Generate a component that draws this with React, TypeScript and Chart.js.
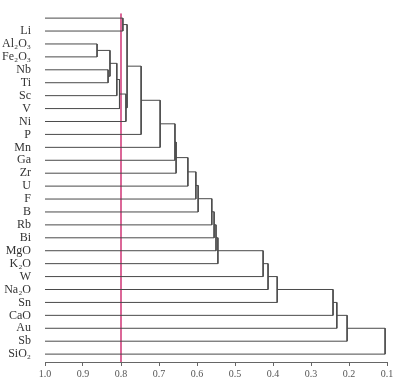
import React, { useEffect, useRef } from "react";
import { Chart, registerables } from "chart.js";

Chart.register(...registerables);

// Leaf labels, top to bottom (the top leaf has no label in the source)
const leafLabels = [
  "", "Li", "Al₂O₃", "Fe₂O₃", "Nb", "Ti", "Sc", "V", "Ni", "P", "Mn", "Ga", "Zr",
  "U", "F", "B", "Rb", "Bi", "MgO", "K₂O", "W", "Na₂O", "Sn", "CaO", "Au", "Sb", "SiO₂",
];

// Linkage: node ids 0..26 are leaves, merge k creates node 27 + k
const mergeLeft = [0, 2, 4, 28, 30, 31, 32, 27, 34, 35, 36, 37, 38, 39, 40, 41, 42, 43, 44, 45, 46, 47, 48, 49, 50, 51];
const mergeRight = [1, 3, 5, 29, 6, 7, 8, 33, 9, 10, 11, 12, 13, 14, 15, 16, 17, 18, 19, 20, 21, 22, 23, 24, 25, 26];
const mergeHeight = [
  0.795, 0.863, 0.834, 0.829, 0.811, 0.804, 0.787, 0.784, 0.747, 0.697, 0.658, 0.655,
  0.624, 0.603, 0.597, 0.561, 0.555, 0.55, 0.545, 0.426, 0.413, 0.389, 0.242, 0.232,
  0.205, 0.105,
];

const xTicks = [1.0, 0.9, 0.8, 0.7, 0.6, 0.5, 0.4, 0.3, 0.2, 0.1];
const thresholdValue = 0.8;

export default function App() {
  const canvasRef = useRef<HTMLCanvasElement | null>(null);

  useEffect(() => {
    if (!canvasRef.current) return;
    const n = leafLabels.length;
    const pos: number[] = [];
    const height: number[] = [];
    for (let i = 0; i < n; i++) {
      pos.push(i);
      height.push(1.0);
    }
    const datasets: any[] = [];
    const lineColor = "#4a4a4a";
    for (let k = 0; k < mergeLeft.length; k++) {
      const a = mergeLeft[k];
      const b = mergeRight[k];
      const h = mergeHeight[k];
      datasets.push({
        data: [
          { x: height[a], y: pos[a] },
          { x: h, y: pos[a] },
          { x: h, y: pos[b] },
          { x: height[b], y: pos[b] },
        ],
        borderColor: lineColor,
        borderWidth: 1,
        pointRadius: 0,
        showLine: true,
        fill: false,
        tension: 0,
      });
      pos.push((pos[a] + pos[b]) / 2);
      height.push(h);
    }
    const yMin = -0.38;
    const yMax = n - 1 + 0.61;
    datasets.push({
      data: [
        { x: thresholdValue, y: yMin },
        { x: thresholdValue, y: yMax },
      ],
      borderColor: "#d2407e",
      borderWidth: 1.6,
      pointRadius: 0,
      showLine: true,
      fill: false,
    });

    const serif = "'Liberation Serif', 'DejaVu Serif', 'Times New Roman', serif";
    const chart = new Chart(canvasRef.current, {
      type: "scatter",
      data: { datasets },
      options: {
        animation: false,
        responsive: false,
        devicePixelRatio: 1,
        events: [],
        layout: { padding: { top: 9, right: 22, bottom: 0, left: 0 } },
        plugins: { legend: { display: false }, tooltip: { enabled: false } },
        scales: {
          x: {
            type: "linear",
            reverse: true,
            min: 0.1,
            max: 1.0,
            afterBuildTicks: (scale: any) => {
              scale.ticks = xTicks.map((v) => ({ value: v }));
            },
            afterFit: (scale: any) => {
              scale.height = 27;
            },
            grid: {
              display: true,
              drawOnChartArea: false,
              drawTicks: true,
              tickLength: 4,
              color: "#666",
            },
            border: { display: true, color: "#666", width: 1 },
            ticks: {
              padding: 2,
              color: "#555",
              font: { family: serif, size: 10 },
              maxRotation: 0,
              autoSkip: false,
              callback: (v: any) => Number(v).toFixed(1),
            },
          },
          y: {
            type: "linear",
            reverse: true,
            min: yMin,
            max: yMax,
            afterBuildTicks: (scale: any) => {
              scale.ticks = leafLabels.map((_, i) => ({ value: i }));
            },
            afterFit: (scale: any) => {
              scale.width = 45;
            },
            grid: { display: false },
            border: { display: false },
            ticks: {
              padding: 6,
              color: "#333",
              autoSkip: false,
              font: { family: serif, size: 12 },
              callback: (v: any) => leafLabels[Math.round(Number(v))] ?? "",
            },
          },
        },
      },
    });
    return () => chart.destroy();
  }, []);

  return (
    <div style={{ position: "absolute", left: 0, top: 0, width: 409, height: 389, background: "#fff" }}>
      <canvas ref={canvasRef} width={409} height={389} />
    </div>
  );
}
